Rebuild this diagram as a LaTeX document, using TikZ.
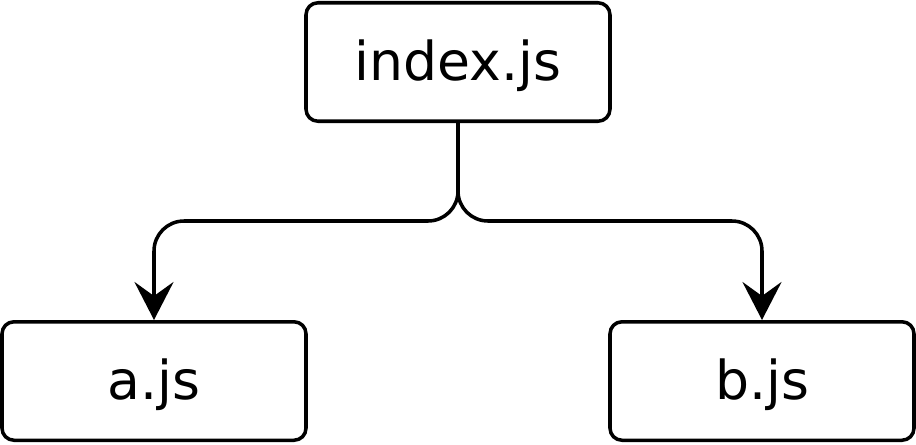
\documentclass[tikz,border=0pt]{standalone}
\usepackage{fontspec}
\setmainfont{DejaVu Sans}
\usetikzlibrary{arrows.meta}
\begin{document}
\begin{tikzpicture}[every node/.style={font=\fontsize{30.5}{36}\selectfont}]
  % Frame
  \useasboundingbox (0,0) rectangle (18.32,-8.88);
  \tikzset{
    filebox/.style={draw, line width=2pt, rounded corners=0.24cm, minimum width=6.08cm,
      minimum height=2.37cm, inner sep=0pt, text height=27.5pt, text depth=7pt},
    link/.style={line width=2pt, rounded corners=0.6cm,
      -{Stealth[length=0.76cm, width=0.78cm, inset=0.28cm]}}
  }
  % Files
  \node[filebox] (index) at (9.16,-1.24) {index.js};
  \node[filebox] (a) at (3.08,-7.62) {a.js};
  \node[filebox] (b) at (15.24,-7.62) {b.js};
  % Imports
  \coordinate (split) at (9.16,-4.42);
  \draw[link] (index.south) -- (split) -| (a.north);
  \draw[link] (index.south) -- (split) -| (b.north);
\end{tikzpicture}
\end{document}
